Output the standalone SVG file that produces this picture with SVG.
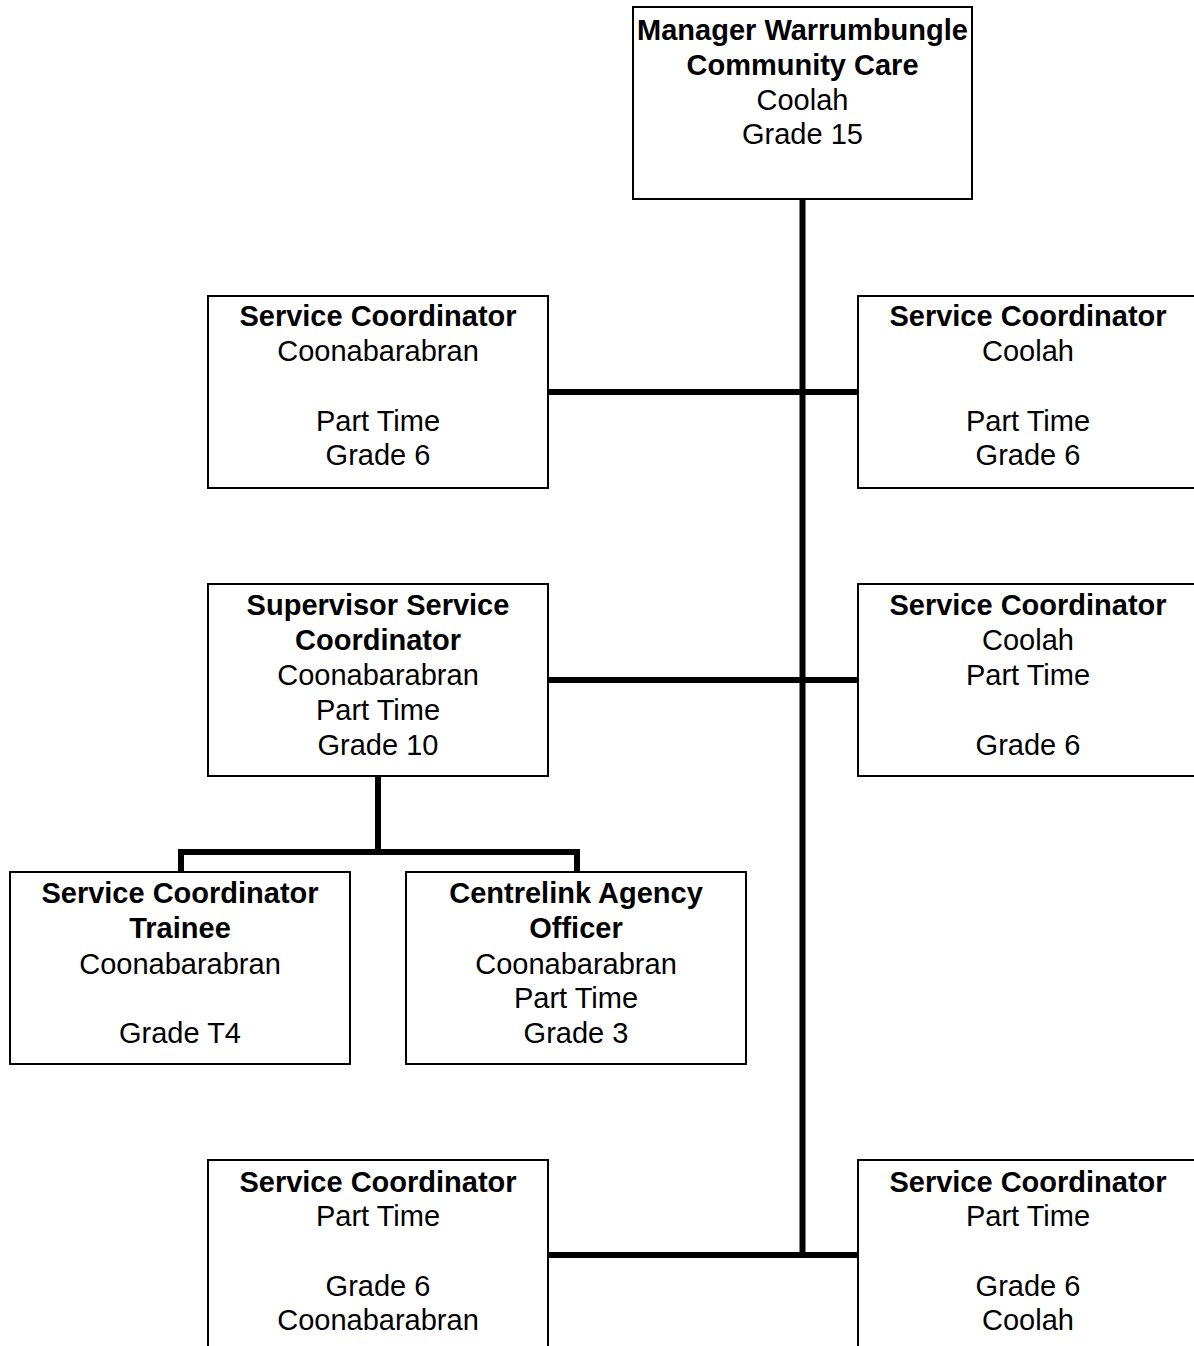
<svg xmlns="http://www.w3.org/2000/svg" width="1194" height="1346" viewBox="0 0 1194 1346">
<style>
.box{fill:#fff;stroke:#000;stroke-width:2}
.c{fill:none;stroke:#000;stroke-width:6;stroke-linecap:butt}
text{font-family:"Liberation Sans",Arial,sans-serif;font-size:29px;text-anchor:middle;fill:#000}
.b{font-weight:bold}
</style>
<rect width="1194" height="1346" fill="#fff"/>
<g id="connectors">
<path class="c" d="M802.5,199 V1258"/>
<path class="c" d="M548,392 H858"/>
<path class="c" d="M548,680 H858"/>
<path class="c" d="M548,1255 H858"/>
<path class="c" d="M378,776 V852"/>
<path class="c" d="M181,875 V852 H577 V875"/>
</g>
<g id="manager">
<rect class="box" x="633" y="7" width="339" height="192"/>
<text x="802.5" y="39.5" class="b">Manager Warrumbungle</text>
<text x="802.5" y="74.5" class="b">Community Care</text>
<text x="802.5" y="109.5">Coolah</text>
<text x="802.5" y="144">Grade 15</text>
</g>
<g id="sc-coonabarabran-1">
<rect class="box" x="208" y="296" width="340" height="192"/>
<text x="378" y="326" class="b">Service Coordinator</text>
<text x="378" y="361">Coonabarabran</text>
<text x="378" y="430.5">Part Time</text>
<text x="378" y="465">Grade 6</text>
</g>
<g id="sc-coolah-1">
<rect class="box" x="858" y="296" width="340" height="192"/>
<text x="1028" y="326" class="b">Service Coordinator</text>
<text x="1028" y="361">Coolah</text>
<text x="1028" y="430.5">Part Time</text>
<text x="1028" y="465">Grade 6</text>
</g>
<g id="supervisor">
<rect class="box" x="208" y="584" width="340" height="192"/>
<text x="378" y="614.5" class="b">Supervisor Service</text>
<text x="378" y="650" class="b">Coordinator</text>
<text x="378" y="685">Coonabarabran</text>
<text x="378" y="720">Part Time</text>
<text x="378" y="755">Grade 10</text>
</g>
<g id="sc-coolah-2">
<rect class="box" x="858" y="584" width="340" height="192"/>
<text x="1028" y="614.5" class="b">Service Coordinator</text>
<text x="1028" y="650">Coolah</text>
<text x="1028" y="684.5">Part Time</text>
<text x="1028" y="755">Grade 6</text>
</g>
<g id="sc-trainee">
<rect class="box" x="10" y="872" width="340" height="192"/>
<text x="180" y="903" class="b">Service Coordinator</text>
<text x="180" y="938" class="b">Trainee</text>
<text x="180" y="974">Coonabarabran</text>
<text x="180" y="1043">Grade T4</text>
</g>
<g id="centrelink">
<rect class="box" x="406" y="872" width="340" height="192"/>
<text x="576" y="903" class="b">Centrelink Agency</text>
<text x="576" y="938" class="b">Officer</text>
<text x="576" y="974">Coonabarabran</text>
<text x="576" y="1008">Part Time</text>
<text x="576" y="1043">Grade 3</text>
</g>
<g id="sc-coonabarabran-2">
<rect class="box" x="208" y="1160" width="340" height="200"/>
<text x="378" y="1191.5" class="b">Service Coordinator</text>
<text x="378" y="1226">Part Time</text>
<text x="378" y="1295.5">Grade 6</text>
<text x="378" y="1330">Coonabarabran</text>
</g>
<g id="sc-coolah-3">
<rect class="box" x="858" y="1160" width="340" height="200"/>
<text x="1028" y="1191.5" class="b">Service Coordinator</text>
<text x="1028" y="1226">Part Time</text>
<text x="1028" y="1295.5">Grade 6</text>
<text x="1028" y="1330">Coolah</text>
</g>
</svg>
